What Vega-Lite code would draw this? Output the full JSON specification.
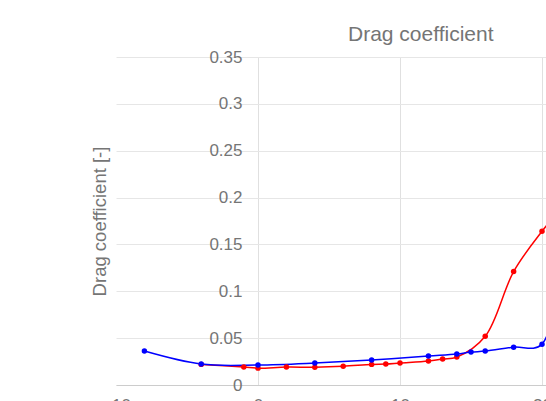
{
  "$schema": "https://vega.github.io/schema/vega-lite/v6.json",
  "autosize": {"type": "none"},
  "padding": {"left": 116, "top": 57, "right": 0, "bottom": 16},
  "width": 430,
  "height": 328,
  "background": "white",
  "config": {"view": {"stroke": null}, "font": "Liberation Sans"},
  "title": {"text": "Drag coefficient", "anchor": "start", "frame": "group", "dx": 232, "offset": 3, "fontSize": 21, "fontWeight": "normal", "color": "#757575", "font": "Liberation Sans"},
  "data": {"values": [
    {"aoa": -4, "cd": 0.022, "series": "Case 1"},
    {"aoa": -1, "cd": 0.0191, "series": "Case 1"},
    {"aoa": 0, "cd": 0.018, "series": "Case 1"},
    {"aoa": 2, "cd": 0.0191, "series": "Case 1"},
    {"aoa": 4, "cd": 0.019, "series": "Case 1"},
    {"aoa": 6, "cd": 0.020, "series": "Case 1"},
    {"aoa": 8, "cd": 0.022, "series": "Case 1"},
    {"aoa": 9, "cd": 0.0223, "series": "Case 1"},
    {"aoa": 10, "cd": 0.0234, "series": "Case 1"},
    {"aoa": 12, "cd": 0.0255, "series": "Case 1"},
    {"aoa": 13, "cd": 0.0277, "series": "Case 1"},
    {"aoa": 14, "cd": 0.0298, "series": "Case 1"},
    {"aoa": 16, "cd": 0.052, "series": "Case 1"},
    {"aoa": 18, "cd": 0.121, "series": "Case 1"},
    {"aoa": 20, "cd": 0.164, "series": "Case 1"},
    {"aoa": 22, "cd": 0.2, "series": "Case 1"},
    {"aoa": -8, "cd": 0.0362, "series": "Case 2"},
    {"aoa": -4, "cd": 0.0223, "series": "Case 2"},
    {"aoa": 0, "cd": 0.0213, "series": "Case 2"},
    {"aoa": 4, "cd": 0.0234, "series": "Case 2"},
    {"aoa": 8, "cd": 0.0266, "series": "Case 2"},
    {"aoa": 12, "cd": 0.0309, "series": "Case 2"},
    {"aoa": 14, "cd": 0.033, "series": "Case 2"},
    {"aoa": 15, "cd": 0.0351, "series": "Case 2"},
    {"aoa": 16, "cd": 0.0362, "series": "Case 2"},
    {"aoa": 18, "cd": 0.0404, "series": "Case 2"},
    {"aoa": 20, "cd": 0.0436, "series": "Case 2"},
    {"aoa": 22, "cd": 0.4, "series": "Case 2"}
  ]},
  "mark": {"type": "line", "interpolate": "catmull-rom", "strokeWidth": 1.5, "clip": true, "point": {"filled": true, "size": 30, "opacity": 1}},
  "encoding": {
    "x": {"field": "aoa", "type": "quantitative", "scale": {"domain": [-10, 20.28], "nice": false, "zero": false},
      "axis": {"title": null, "values": [-10, 0, 10, 20], "format": "d", "ticks": false, "labelPadding": 12, "labelFontSize": 17, "labelColor": "#757575", "domainColor": "#cccccc",
        "gridColor": {"condition": {"test": "datum.value == -10", "value": "transparent"}, "value": "#e0e0e0"}, "labelFlush": false}},
    "y": {"field": "cd", "type": "quantitative", "scale": {"domain": [0, 0.35], "nice": false},
      "axis": {"title": "Drag coefficient [-]", "values": [0, 0.05, 0.1, 0.15, 0.2, 0.25, 0.3, 0.35], "format": "~g", "offset": -142, "ticks": false, "domain": false, "labelPadding": 16, "labelFontSize": 17, "labelColor": "#757575", "gridColor": "#e6e6e6",
        "titleX": -149, "titleY": 164, "titleFontSize": 18.5, "titleFontWeight": "normal", "titleColor": "#757575", "titleAngle": -90, "titleBaseline": "bottom", "titleAlign": "center"}},
    "color": {"field": "series", "type": "nominal", "scale": {"domain": ["Case 1", "Case 2"], "range": ["#ff0000", "#0000ff"]}, "legend": null}
  }
}
